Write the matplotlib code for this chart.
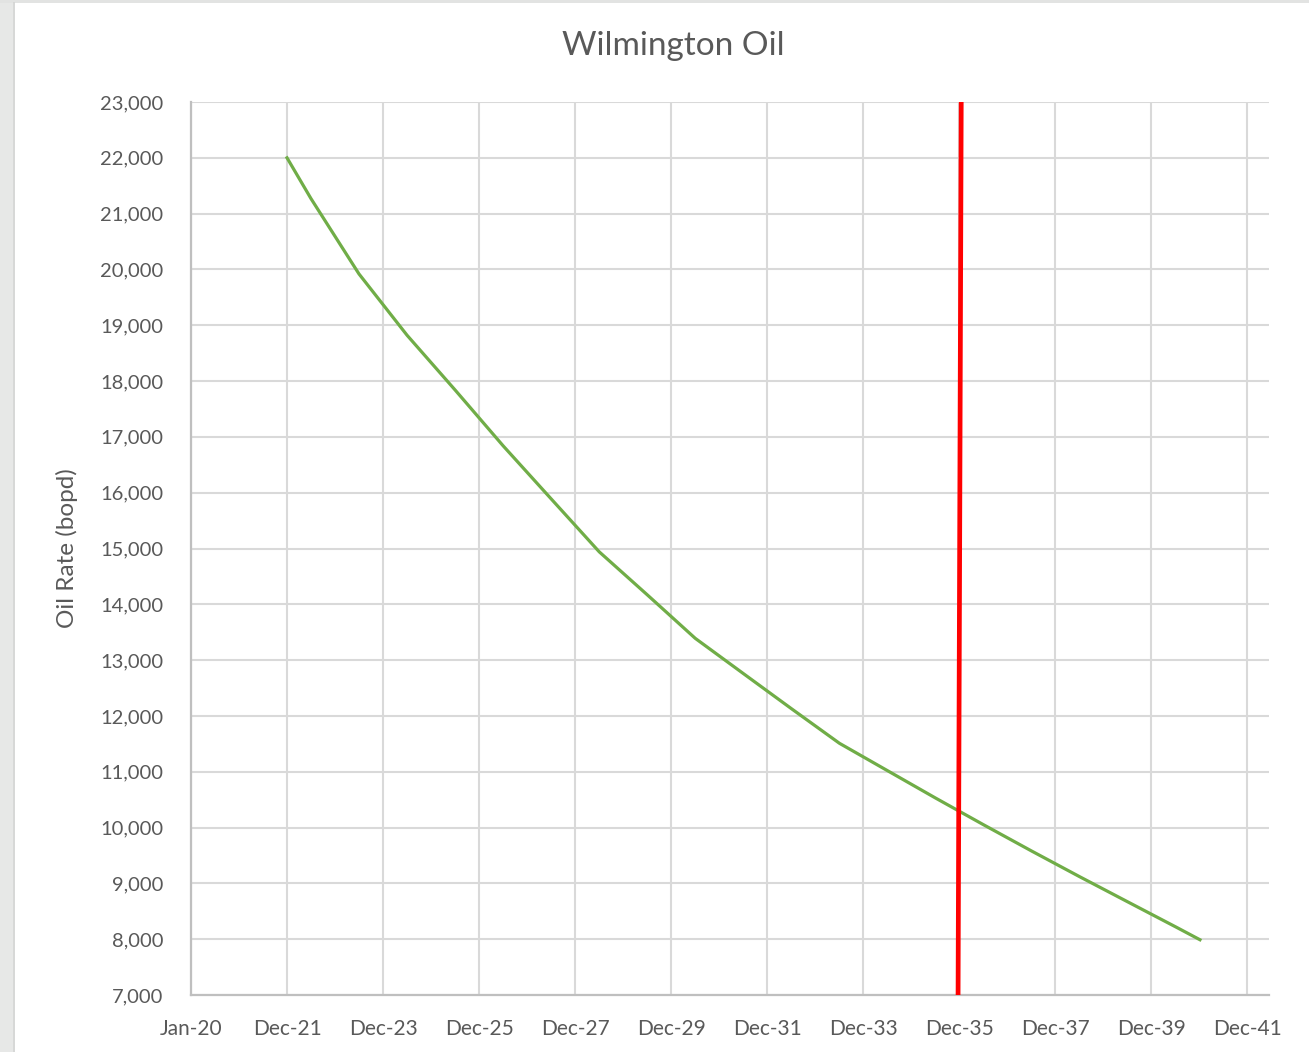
import matplotlib
matplotlib.use("Agg")
import matplotlib.pyplot as plt
import matplotlib.dates as mdates
import numpy as np
import pandas as pd
from matplotlib.patches import Rectangle
from matplotlib.lines import Line2D

# ---- data ----
title = "Wilmington Oil"
y_label = "Oil Rate (bopd)"

oil_dates = ["2021-12-31", "2022-07-01", "2023-07-01", "2024-07-01", "2025-07-01",
             "2026-07-01", "2027-07-01", "2028-07-01", "2029-07-01", "2030-07-01",
             "2031-07-01", "2032-07-01", "2033-07-01", "2034-07-01", "2035-07-01",
             "2036-07-01", "2037-07-01", "2038-07-01", "2039-07-01", "2040-07-01",
             "2041-01-01"]
oil_rate = [22000, 21270, 19920, 18820, 17840,
            16840, 15890, 14940, 14170, 13390,
            12760, 12130, 11510, 11020, 10530,
            10050, 9580, 9120, 8670, 8220,
            7990]

marker_dates = ["2035-12-20", "2036-01-13"]
marker_vals = [7000, 23000]

x_start = "2020-01-01"
x_tick_step_days = 730
n_x_ticks = 12
x_end = "2042-06-10"
y_min, y_max, y_step = 7000, 23000, 1000

# ---- figure ----
fig = plt.figure(figsize=(13.09, 10.52), dpi=100)
fig.patch.set_facecolor("white")
fig.add_artist(Rectangle((0, 0), 13/1309, 1, transform=fig.transFigure,
                         facecolor="#e7e8e7", edgecolor="none", zorder=-5))
fig.add_artist(Rectangle((0, 1 - 3/1052), 1, 3/1052, transform=fig.transFigure,
                         facecolor="#e2e3e2", edgecolor="none", zorder=-5))
fig.add_artist(Line2D([13.5/1309, 13.5/1309], [0, 1 - 3/1052], transform=fig.transFigure,
                      color="#d0d1d0", lw=1.2, zorder=-4))

ax = fig.add_axes([191/1309, 1 - 995/1052, (1269 - 191)/1309, (995 - 102)/1052])

font = "Lato"
txt_color = "#595959"

d_oil = pd.to_datetime(oil_dates)
ax.plot(d_oil, oil_rate, color="#70ad47", lw=2.3, solid_joinstyle="round", zorder=3)

d_mark = pd.to_datetime(marker_dates)
ax.plot(d_mark, marker_vals, color="#ff0000", lw=3.4, zorder=4, solid_capstyle="butt")

start = pd.Timestamp(x_start)
ticks = [start + pd.Timedelta(days=x_tick_step_days * i) for i in range(n_x_ticks)]
ax.set_xlim(start, pd.Timestamp(x_end))
ax.set_xticks(ticks)
ax.xaxis.set_major_formatter(mdates.DateFormatter("%b-%y"))

ax.set_ylim(y_min, y_max)
ax.set_yticks(np.arange(y_min, y_max + 1, y_step))
ax.yaxis.set_major_formatter(matplotlib.ticker.FuncFormatter(lambda v, p: f"{int(v):,}"))

ax.grid(True, color="#d9d9d9", lw=1.5, zorder=0)
ax.set_axisbelow(True)
for s in ["top", "right"]:
    ax.spines[s].set_visible(False)
for s in ["left", "bottom"]:
    ax.spines[s].set_color("#bfbfbf")
    ax.spines[s].set_linewidth(1.6)

ax.tick_params(axis="both", length=0, labelcolor=txt_color)
ax.tick_params(axis="x", pad=17, labelsize=15)
ax.tick_params(axis="y", pad=20, labelsize=14.5)
for lab in ax.get_xticklabels() + ax.get_yticklabels():
    lab.set_fontfamily(font)

ax.set_ylabel(y_label, fontsize=17.5, color=txt_color, fontfamily=font, labelpad=16)
fig.text(673/1309, 1 - 46/1052, title, ha="center", va="center",
         fontsize=24, color=txt_color, fontfamily=font)

fig.savefig("out.png", dpi=100)
